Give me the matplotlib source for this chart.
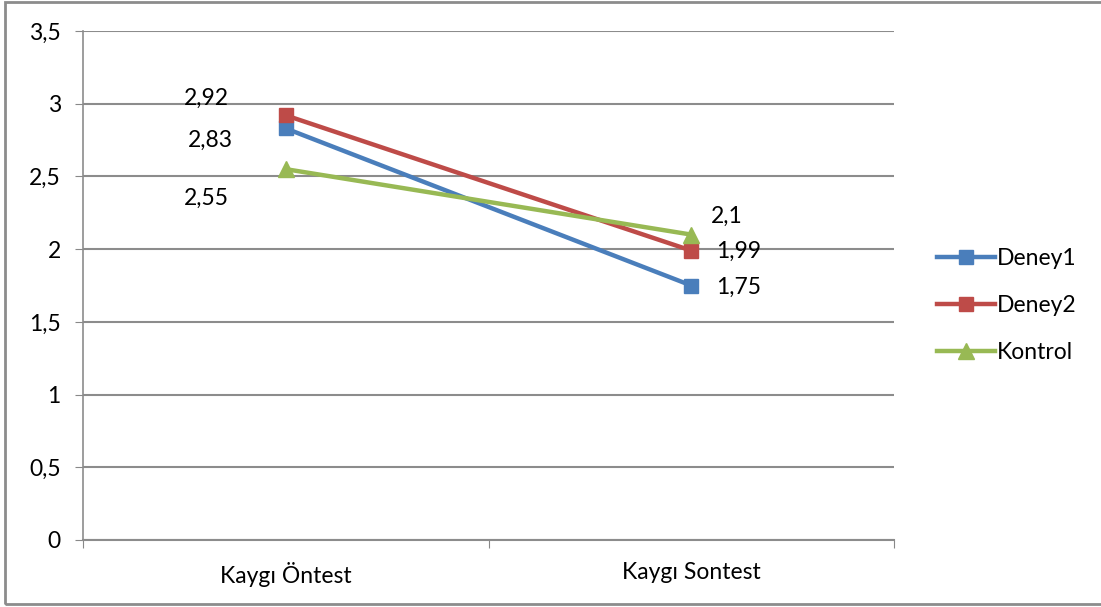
import matplotlib
matplotlib.use("Agg")
import matplotlib.pyplot as plt
from matplotlib.lines import Line2D

plt.rcParams['font.family'] = ['Lato', 'DejaVu Sans']

categories = ["Kaygı Öntest", "Kaygı Sontest"]
series_names = ["Deney1", "Deney2", "Kontrol"]
deney1 = [2.83, 1.75]
deney2 = [2.92, 1.99]
kontrol = [2.55, 2.1]
yticks = [0, 0.5, 1, 1.5, 2, 2.5, 3, 3.5]
ytick_labels = ["0", "0,5", "1", "1,5", "2", "2,5", "3", "3,5"]
label1 = ["2,83", "1,75"]
label2 = ["2,92", "1,99"]
label3 = ["2,55", "2,1"]

colors = ["#4A7EBB", "#BE4B48", "#98B954"]
markers = ["s", "s", "^"]

W, H = 1101, 607
fig = plt.figure(figsize=(W / 100, H / 100), dpi=100)
ax = fig.add_axes([83 / W, 1 - 540 / H, (894 - 83) / W, (540 - 31) / H])

fs = 16.5
x = [0.5, 1.5]
data = [deney1, deney2, kontrol]
for vals, c, m, name in zip(data, colors, markers, series_names):
    ax.plot(x, vals, color=c, lw=3.2, marker=m, markersize=11.5 if m == "^" else 9.5,
            markeredgecolor=c, label=name, zorder=3, solid_capstyle='round')

ax.set_xlim(0, 2)
ax.set_ylim(0, 3.5)
ax.set_yticks(yticks)
ax.set_yticklabels(ytick_labels, fontsize=fs)
ax.set_xticks([0, 1, 2])
ax.set_xticklabels([])
ax.set_xticks(x, minor=True)
ax.set_xticklabels(categories, minor=True, fontsize=fs)
ax.tick_params(axis='x', which='minor', length=0, pad=16)
ax.tick_params(axis='x', which='major', length=6, color="#888888", direction='out')
ax.tick_params(axis='y', length=6, color="#888888", direction='out', pad=10)
ax.grid(axis='y', color="#8C8C8C", lw=1.5)
ax.set_axisbelow(True)
for s in ['top', 'right']:
    ax.spines[s].set_visible(False)
ax.spines['left'].set_color("#8C8C8C")
ax.spines['bottom'].set_color("#8C8C8C")
ax.spines['left'].set_linewidth(1.2)
ax.spines['bottom'].set_linewidth(1.5)

# data labels (offsets in pixels from each point)
offsets = {
    (1, 0): (-79, 17), (0, 0): (-75, -12), (2, 0): (-79, -29),
    (2, 1): (36, 18), (1, 1): (47, -1), (0, 1): (47, -2),
}
labels = [label1, label2, label3]
for (si, pi), (dx, dy) in offsets.items():
    ax.annotate(labels[si][pi], (x[pi], data[si][pi]), xytext=(dx, dy),
                textcoords='offset pixels', ha='center', va='center', fontsize=fs)

# legend
handles = [Line2D([0], [0], color=c, lw=3.2, marker=m, markersize=11.5 if m == "^" else 9.5,
                  markeredgecolor=c) for c, m in zip(colors, markers)]
leg = fig.legend(handles, series_names, loc='upper left',
                 bbox_to_anchor=(916 / W, 1 - 227 / H), frameon=False, fontsize=fs,
                 handlelength=2.55, handletextpad=0.1, labelspacing=1.15)

# outer border
border = plt.Rectangle((5 / W, 3 / H), 1.2, 1 - 5 / H, transform=fig.transFigure,
                       fill=False, edgecolor="#8C8C8C", lw=2)
fig.patches.append(border)

fig.savefig("out.png", dpi=100)
